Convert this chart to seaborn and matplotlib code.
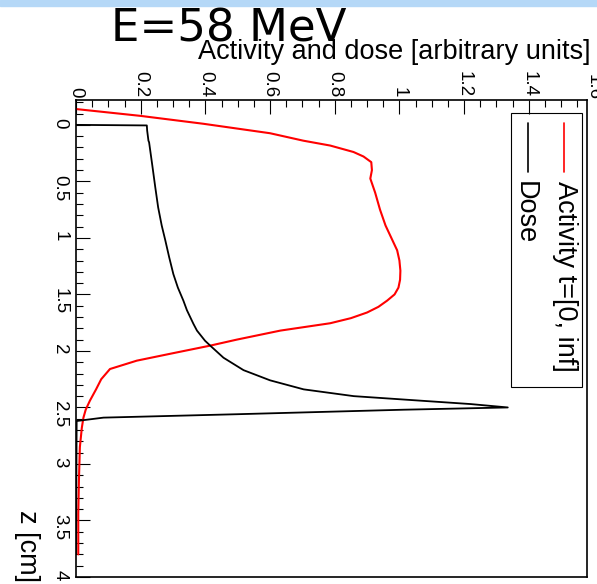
import numpy as np
import pandas as pd
import matplotlib
matplotlib.use("Agg")
import matplotlib.pyplot as plt
from matplotlib.patches import Rectangle
from matplotlib.ticker import MultipleLocator, FuncFormatter
import seaborn as sns

# Werte (z in cm, Aktivitaet / Dosis in willkuerlichen Einheiten)
activity_z = [-0.14, -0.08, -0.01, 0.074, 0.14, 0.183, 0.24, 0.28, 0.33, 0.40, 0.475,
              0.60, 0.75, 0.89, 1.00, 1.11, 1.20, 1.29, 1.37, 1.44, 1.50, 1.555,
              1.61, 1.66, 1.71, 1.755, 1.82, 1.90, 1.953, 2.02, 2.086, 2.16, 2.25,
              2.34, 2.44, 2.52, 2.59, 2.68, 2.85, 3.15, 3.44, 3.80]
activity = [0.0, 0.198, 0.393, 0.60, 0.703, 0.786, 0.858, 0.889, 0.913, 0.915, 0.91,
            0.925, 0.94, 0.957, 0.975, 0.993, 1.0, 1.003, 1.002, 0.997, 0.985, 0.962,
            0.935, 0.90, 0.85, 0.786, 0.632, 0.497, 0.415, 0.30, 0.188, 0.105, 0.078,
            0.062, 0.043, 0.03, 0.023, 0.018, 0.012, 0.009, 0.007, 0.007]

dose_z = [0.0, 0.005, 0.05, 0.14, 0.154, 0.36, 0.55, 0.73, 0.89, 1.02, 1.17, 1.32,
          1.44, 1.555, 1.64, 1.76, 1.82, 1.91, 1.953, 2.06, 2.17, 2.26, 2.34, 2.40,
          2.44, 2.47, 2.50, 2.52, 2.56, 2.59, 2.62, 3.8]
dose = [0.0, 0.219, 0.22, 0.224, 0.226, 0.236, 0.245, 0.254, 0.265, 0.276, 0.288,
        0.301, 0.315, 0.332, 0.343, 0.363, 0.374, 0.399, 0.415, 0.456, 0.518, 0.60,
        0.704, 0.859, 1.065, 1.22, 1.335, 1.013, 0.497, 0.085, 0.002, 0.0]

legend_labels = ["Activity t=[0, inf]", "Dose"]
title = "E=58 MeV"
value_label = "Activity and dose [arbitrary units]"
z_label = "z [cm]"

sns.set_theme(style="white")
plt.rcParams["font.family"] = ["Liberation Sans", "DejaVu Sans"]
plt.rcParams["text.color"] = "black"
plt.rcParams["axes.labelcolor"] = "black"
plt.rcParams["xtick.color"] = "black"
plt.rcParams["ytick.color"] = "black"

fig = plt.figure(figsize=(5.97, 5.84), dpi=100)
ax = fig.add_axes([76 / 597, 7 / 584, 511 / 597, 477 / 584])

# hellblauer Streifen oben (Bildschirmfoto)
fig.patches.append(Rectangle((0, 578 / 584), 1, 6 / 584, transform=fig.transFigure,
                             color="#b5d8f7", zorder=0))

df_act = pd.DataFrame({"z": activity_z, "value": activity})
df_dose = pd.DataFrame({"z": dose_z, "value": dose})
sns.lineplot(data=df_act, x="value", y="z", sort=False, estimator=None,
             color="red", lw=1.5, ax=ax)
sns.lineplot(data=df_dose, x="value", y="z", sort=False, estimator=None,
             color="black", lw=1.3, ax=ax)

ax.set_xlim(0, 1.58)
ax.set_ylim(4, -0.22)

fmt = FuncFormatter(lambda v, p: "%g" % round(v, 2))
ax.xaxis.tick_top()
ax.xaxis.set_major_locator(MultipleLocator(0.2))
ax.xaxis.set_minor_locator(MultipleLocator(0.05))
ax.xaxis.set_major_formatter(fmt)
ax.yaxis.set_major_locator(MultipleLocator(0.5))
ax.yaxis.set_minor_locator(MultipleLocator(0.1))
ax.yaxis.set_major_formatter(fmt)
ax.tick_params(axis="x", which="both", top=True, bottom=False, direction="in",
               labelrotation=-90, labelsize=13.5, pad=2, colors="black")
ax.tick_params(axis="y", which="both", left=True, right=False, direction="in",
               labelrotation=-90, labelsize=13.5, pad=5.5, colors="black")
ax.tick_params(which="major", length=10, width=0.8)
ax.tick_params(which="minor", length=5, width=0.8)
for s in ax.spines.values():
    s.set_visible(True)
    s.set_color("black")
    s.set_linewidth(1.2)

# Label 1.6 liegt knapp ausserhalb des Bereichs
ax.text(1.6, 1.0, "1.6", transform=ax.get_xaxis_transform(), rotation=-90,
        ha="center", va="bottom", fontsize=13.5, clip_on=False)

ax.xaxis.set_label_position("top")
ax.set_xlabel(value_label, fontsize=19.5, ha="right", va="baseline")
ax.xaxis.set_label_coords(1.006, 1.086)
ax.set_ylabel(z_label, fontsize=19.5, rotation=-90, ha="center", va="bottom")
ax.yaxis.label.set_rotation_mode("default")
ax.yaxis.set_label_coords(-0.096, -0.010)

fig.text(228.5 / 597, 1 - 41 / 584, title, fontsize=32.5, family="DejaVu Sans",
         ha="center", va="baseline")

# Legende von Hand, gedreht wie im Original
ax.add_patch(Rectangle((0.851, 0.398), 0.1386, 0.574, transform=ax.transAxes,
                       fill=False, edgecolor="black", lw=0.8, zorder=5))
ax.plot([0.9556, 0.9556], [0.952, 0.850], transform=ax.transAxes, color="red", lw=1.2)
ax.plot([0.884, 0.884], [0.952, 0.850], transform=ax.transAxes, color="black", lw=1.2)
ax.text(0.957, 0.830, legend_labels[0], transform=ax.transAxes, rotation=-90,
        ha="center", va="top", fontsize=19.5)
ax.text(0.879, 0.830, legend_labels[1], transform=ax.transAxes, rotation=-90,
        ha="center", va="top", fontsize=19.5)

fig.savefig("out.png", dpi=100)
